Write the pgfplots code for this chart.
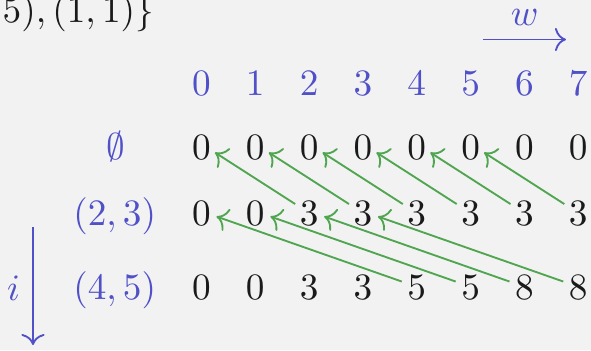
\documentclass[border=0pt]{standalone}
\usepackage{pgfplots}
\pgfplotsset{compat=1.18}
\usepackage{pgfplotstable}
\usetikzlibrary{arrows.meta}
\definecolor{bg}{HTML}{F2F2F2}
\definecolor{hblue}{RGB}{80,80,200}
\definecolor{agreen}{RGB}{80,165,80}
\definecolor{ink}{HTML}{1A1A1A}

\pgfplotstableread{
x y v
201.5 83.5 0
255.3 83.5 1
309.2 83.5 2
363.0 83.5 3
416.8 83.5 4
470.7 83.5 5
524.5 83.5 6
578.3 83.5 7
}\header

\pgfplotstableread{
x y v
201.5 147 0
255.3 147 0
309.2 147 0
363.0 147 0
416.8 147 0
470.7 147 0
524.5 147 0
578.3 147 0
201.5 213.5 0
255.3 213.5 0
309.2 213.5 3
363.0 213.5 3
416.8 213.5 3
470.7 213.5 3
524.5 213.5 3
578.3 213.5 3
201.5 287 0
255.3 287 0
309.2 287 3
363.0 287 3
416.8 287 5
470.7 287 5
524.5 287 8
578.3 287 8
}\cells

\pgfplotstableread{
x y u v
295.2 204 -80.2 -51.5
349.0 204 -80.2 -51.5
402.8 204 -80.2 -51.5
456.7 204 -80.2 -51.5
510.5 204 -80.2 -51.5
564.3 204 -80.2 -51.5
401.8 281.5 -185.3 -65
455.7 281.5 -185.3 -65
509.5 281.5 -185.3 -65
563.3 281.5 -185.3 -65
}\arrows

\begin{document}
\begin{tikzpicture}
\useasboundingbox (0,0) rectangle (158.7pt,94pt);
\fill[bg] (0,0) rectangle (158.7pt,94pt);
\clip (0,0) rectangle (158.7pt,94pt);
\begin{axis}[at={(0,0)}, anchor=south west, scale only axis,
  width=158.7pt, height=94pt, xmin=0, xmax=591, ymin=0, ymax=350,
  y dir=reverse, hide axis, clip=false]
\addplot[draw=none, mark=none, point meta=explicit symbolic,
  nodes near coords={$\pgfplotspointmeta$}, nodes near coords align=center,
  every node near coord/.append style={text=hblue, inner sep=0pt, anchor=center}]
  table[x=x, y=y, meta=v] {\header};
\addplot[draw=none, mark=none, point meta=explicit symbolic,
  nodes near coords={$\pgfplotspointmeta$}, nodes near coords align=center,
  every node near coord/.append style={text=ink, inner sep=0pt, anchor=center}]
  table[x=x, y=y, meta=v] {\cells};
\addplot[agreen, line width=0.5pt, -{To[scale=1.1]},
  quiver={u=\thisrow{u}, v=\thisrow{v}}]
  table[x=x, y=y] {\arrows};
\addplot[hblue, line width=0.5pt, -{To[scale=1.1]}] coordinates {(483,39.5) (566,39.5)};
\addplot[hblue, line width=0.5pt, -{To[scale=1.1]}] coordinates {(33,227) (33,345)};
\node[anchor=base, inner sep=0pt, text=hblue] at (axis cs:524.7,25) {$w$};
\node[anchor=base, inner sep=0pt, text=hblue] at (axis cs:13.5,300) {$i$};
\node[anchor=base, inner sep=0pt, text=hblue] at (axis cs:115.8,159) {$\emptyset$};
\node[anchor=base, inner sep=0pt, text=hblue] at (axis cs:114.7,225.5) {$(2,3)$};
\node[anchor=base, inner sep=0pt, text=hblue] at (axis cs:114.7,299) {$(4,5)$};
\node[anchor=base east, inner sep=0pt, text=ink] at (axis cs:154.5,22.7) {$\{(2,3),(4,5),(1,1)\}$};
\end{axis}
\end{tikzpicture}
\end{document}
